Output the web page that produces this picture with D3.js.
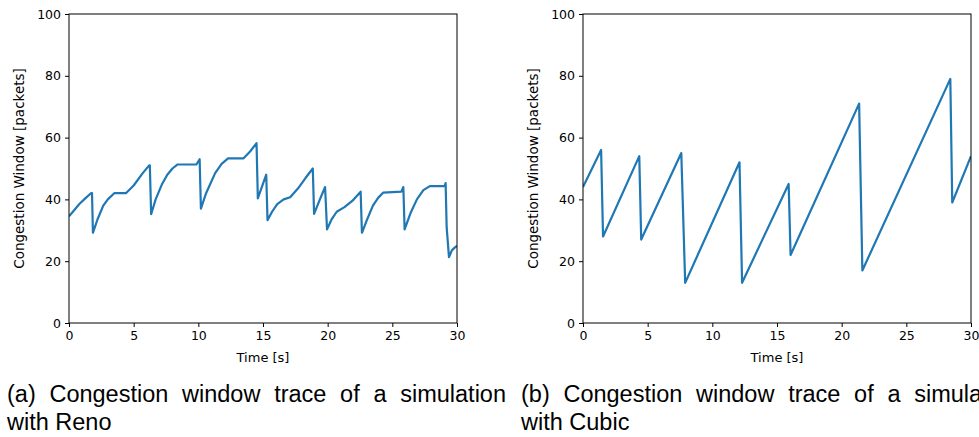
<!DOCTYPE html>
<html>
<head>
<meta charset="utf-8">
<script src="https://cdn.jsdelivr.net/npm/d3@7"></script>
<style>
  body { margin: 0; background: #fff; }
  svg { display: block; }
</style>
</head>
<body>
<svg id="chart" width="979" height="437"></svg>
<script>
// Reno trace (time in s, cwnd in packets)
const renoTime = [0, 0.3, 0.8, 1.3, 1.7, 1.78, 1.85, 2.2, 2.65, 3.0, 3.5, 4.4, 5.0, 5.7, 6.2, 6.25,
  6.35, 6.7, 7.2, 7.6, 8.0, 8.4, 9.85, 10.1, 10.2, 10.6, 11.3, 11.8, 12.3, 13.5, 14.0, 14.5,
  14.6, 15.25, 15.35, 15.7, 16.1, 16.6, 17.1, 17.7, 18.3, 18.85, 18.95, 19.4, 19.8, 19.95,
  20.3, 20.7, 21.3, 21.9, 22.55, 22.65, 23.0, 23.5, 23.9, 24.3, 25.7, 25.85, 25.95, 26.4,
  26.9, 27.4, 27.9, 29.05, 29.12, 29.2, 29.38, 29.6, 29.8, 30]
const renoCwnd = [34.5, 36, 38.5, 40.5, 42, 42, 29.2, 33.5, 38, 40, 42, 42, 44.5, 48.5, 51, 51,
  35.2, 40, 45, 48, 50, 51.3, 51.3, 53, 37, 42, 48.5, 51.5, 53.3, 53.3, 55.5, 58.2,
  40.3, 48, 33.3, 36, 38.5, 40, 40.7, 43.5, 47, 50, 35.3, 40, 44, 30.3,
  33.5, 36, 37.5, 39.5, 42.5, 29.2, 33, 38, 40.5, 42.2, 42.5, 44, 30.3, 35.5,
  40, 43, 44.3, 44.3, 45.3, 31, 21.3, 23.5, 24.3, 25]

// Cubic trace
const cubicTime = [0, 1.4, 1.55, 4.35, 4.5, 7.6, 7.9, 12.1, 12.3, 15.9, 16.05, 21.35, 21.6, 28.4, 28.55, 30]
const cubicCwnd = [44, 56, 28, 54, 27, 55, 13, 52, 13, 45, 22, 71, 17, 79, 39, 54]

const xTicks = [0, 5, 10, 15, 20, 25, 30]
const yTicks = [0, 20, 40, 60, 80, 100]

const captionA = ["(a) Congestion window trace of a simulation", "with Reno"]
const captionB = ["(b) Congestion window trace of a simulation", "with Cubic"]

const svg = d3.select("#chart")
const plotTop = 14
const plotBottom = 323
const lineColor = "#1f77b4"
const tickFont = "DejaVu Sans, sans-serif"

function drawPanel(left, right, times, cwnd, id) {
  const x = d3.scaleLinear().domain([0, 30]).range([left, right])
  const y = d3.scaleLinear().domain([0, 100]).range([plotBottom, plotTop])

  svg.append("clipPath").attr("id", id)
    .append("rect")
    .attr("x", left).attr("y", plotTop)
    .attr("width", right - left).attr("height", plotBottom - plotTop)

  const pts = times.map((t, i) => [t, cwnd[i]])
  const line = d3.line().x(d => x(d[0])).y(d => y(d[1]))

  svg.append("path")
    .datum(pts)
    .attr("clip-path", `url(#${id})`)
    .attr("d", line)
    .attr("fill", "none")
    .attr("stroke", lineColor)
    .attr("stroke-width", 2.2)
    .attr("stroke-linejoin", "round")

  // frame
  svg.append("rect")
    .attr("x", left).attr("y", plotTop)
    .attr("width", right - left).attr("height", plotBottom - plotTop)
    .attr("fill", "none").attr("stroke", "#000").attr("stroke-width", 1)

  const xAxis = svg.append("g")
    .attr("transform", `translate(0,${plotBottom})`)
    .call(d3.axisBottom(x).tickValues(xTicks).tickSize(4).tickPadding(4))
  const yAxis = svg.append("g")
    .attr("transform", `translate(${left},0)`)
    .call(d3.axisLeft(y).tickValues(yTicks).tickSize(4).tickPadding(4))

  ;[xAxis, yAxis].forEach(a => {
    a.select(".domain").remove()
    a.selectAll("line").attr("stroke", "#000")
    a.selectAll("text")
      .attr("fill", "#000")
      .style("font-family", tickFont)
      .style("font-size", "12.5px")
  })

  svg.append("text")
    .attr("x", (left + right) / 2)
    .attr("y", 362)
    .attr("text-anchor", "middle")
    .style("font-family", tickFont)
    .style("font-size", "13px")
    .text("Time [s]")

  svg.append("text")
    .attr("transform", `translate(${left - 50},${(plotTop + plotBottom) / 2}) rotate(-90)`)
    .attr("dy", "0.35em")
    .attr("text-anchor", "middle")
    .style("font-family", tickFont)
    .style("font-size", "13.5px")
    .text("Congestion Window [packets]")
}

function drawCaption(x0, lines, width) {
  const first = svg.append("text")
    .attr("x", x0).attr("y", 402)
    .style("font-family", "Liberation Sans, Arial, sans-serif")
    .style("font-size", "23.5px")
    .attr("fill", "#000")
    .text(lines[0])
  // justify the first line to the column width
  const natural = first.node().getComputedTextLength()
  const gaps = lines[0].split(" ").length - 1
  first.attr("word-spacing", (width - natural) / gaps)

  svg.append("text")
    .attr("x", x0).attr("y", 430)
    .style("font-family", "Liberation Sans, Arial, sans-serif")
    .style("font-size", "23.5px")
    .attr("fill", "#000")
    .text(lines[1])
}

drawPanel(69, 457, renoTime, renoCwnd, "clipA")
drawPanel(583, 971, cubicTime, cubicCwnd, "clipB")
drawCaption(7, captionA, 499)
drawCaption(521, captionB, 499)
</script>
</body>
</html>
